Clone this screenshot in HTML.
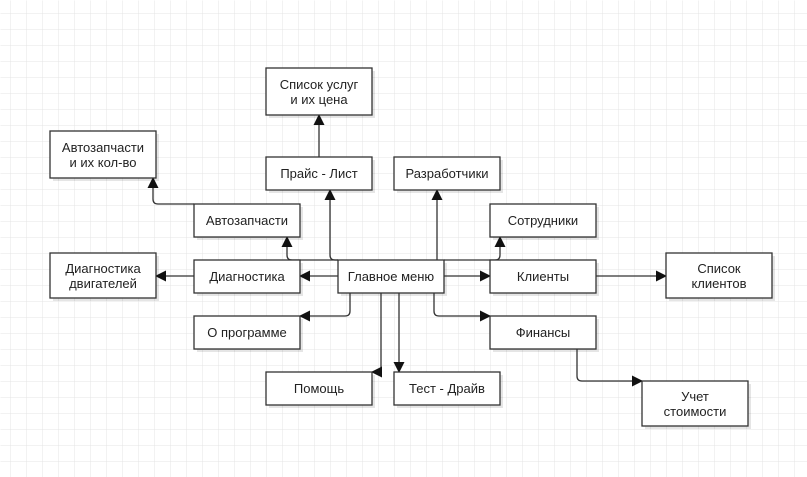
<!DOCTYPE html>
<html><head><meta charset="utf-8"><style>
html,body{margin:0;padding:0;background:#fff;}
svg{display:block;}
text{font-family:"Liberation Sans",Arial,sans-serif;font-size:13px;fill:#222;text-anchor:middle;}
</style></head><body>
<svg width="807" height="477" viewBox="0 0 807 477" xmlns="http://www.w3.org/2000/svg">
<defs>
<pattern id="g" x="10" y="13" width="16" height="16" patternUnits="userSpaceOnUse">
<path d="M0 0H16M0 0V16" stroke="#e4e4e4" stroke-width="1" fill="none"/>
</pattern>
<marker id="a" markerWidth="12" markerHeight="12" refX="10" refY="6" orient="auto" markerUnits="userSpaceOnUse">
<path d="M0,0.5 L11,6 L0,11.5 Z" fill="#111"/>
</marker>
</defs>
<rect x="0" y="0" width="807" height="477" fill="url(#g)" transform="translate(0.5,0.5)"/>
<g fill="#000" fill-opacity="0.1">
<rect x="269" y="71" width="106" height="47"/>
<rect x="53" y="134" width="106" height="47"/>
<rect x="269" y="160" width="106" height="33"/>
<rect x="397" y="160" width="106" height="33"/>
<rect x="197" y="207" width="106" height="33"/>
<rect x="493" y="207" width="106" height="33"/>
<rect x="53" y="256" width="106" height="45"/>
<rect x="197" y="263" width="106" height="33"/>
<rect x="341" y="263" width="106" height="33"/>
<rect x="493" y="263" width="106" height="33"/>
<rect x="669" y="256" width="106" height="45"/>
<rect x="197" y="319" width="106" height="33"/>
<rect x="493" y="319" width="106" height="33"/>
<rect x="269" y="375" width="106" height="33"/>
<rect x="397" y="375" width="106" height="33"/>
<rect x="645" y="384" width="106" height="45"/>
</g>
<g fill="none" stroke="#333" stroke-width="1.3" marker-end="url(#a)">
<path d="M319,157 V115"/>
<path d="M338,260 H335 Q330,260 330,255 V190"/>
<path d="M437,260 V190"/>
<path d="M338,260 H292 Q287,260 287,255 V237"/>
<path d="M444,260 H495 Q500,260 500,255 V237"/>
<path d="M338,276 H300"/>
<path d="M444,276 H490"/>
<path d="M350,293 V311 Q350,316 345,316 H300"/>
<path d="M434,293 V311 Q434,316 439,316 H490"/>
<path d="M381,293 V367 Q381,372 376,372 H372"/>
<path d="M399,293 V372"/>
<path d="M194,204 H158 Q153,204 153,199 V178"/>
<path d="M194,276 H156"/>
<path d="M596,276 H666"/>
<path d="M577,349 V376 Q577,381 582,381 H642"/>
</g>
<g fill="#fff" stroke="#333" stroke-width="1.3">
<rect x="266" y="68" width="106" height="47"/>
<rect x="50" y="131" width="106" height="47"/>
<rect x="266" y="157" width="106" height="33"/>
<rect x="394" y="157" width="106" height="33"/>
<rect x="194" y="204" width="106" height="33"/>
<rect x="490" y="204" width="106" height="33"/>
<rect x="50" y="253" width="106" height="45"/>
<rect x="194" y="260" width="106" height="33"/>
<rect x="338" y="260" width="106" height="33"/>
<rect x="490" y="260" width="106" height="33"/>
<rect x="666" y="253" width="106" height="45"/>
<rect x="194" y="316" width="106" height="33"/>
<rect x="490" y="316" width="106" height="33"/>
<rect x="266" y="372" width="106" height="33"/>
<rect x="394" y="372" width="106" height="33"/>
<rect x="642" y="381" width="106" height="45"/>
</g>
<text x="319" y="89">Список услуг</text><text x="319" y="104">и их цена</text>
<text x="103" y="152">Автозапчасти</text><text x="103" y="167">и их кол-во</text>
<text x="319" y="178">Прайс - Лист</text>
<text x="447" y="178">Разработчики</text>
<text x="247" y="225">Автозапчасти</text>
<text x="543" y="225">Сотрудники</text>
<text x="103" y="273">Диагностика</text><text x="103" y="288">двигателей</text>
<text x="247" y="281">Диагностика</text>
<text x="391" y="281">Главное меню</text>
<text x="543" y="281">Клиенты</text>
<text x="719" y="273">Список</text><text x="719" y="288">клиентов</text>
<text x="247" y="337">О программе</text>
<text x="543" y="337">Финансы</text>
<text x="319" y="393">Помощь</text>
<text x="447" y="393">Тест - Драйв</text>
<text x="695" y="401">Учет</text><text x="695" y="416">стоимости</text>
</svg>
</body></html>
